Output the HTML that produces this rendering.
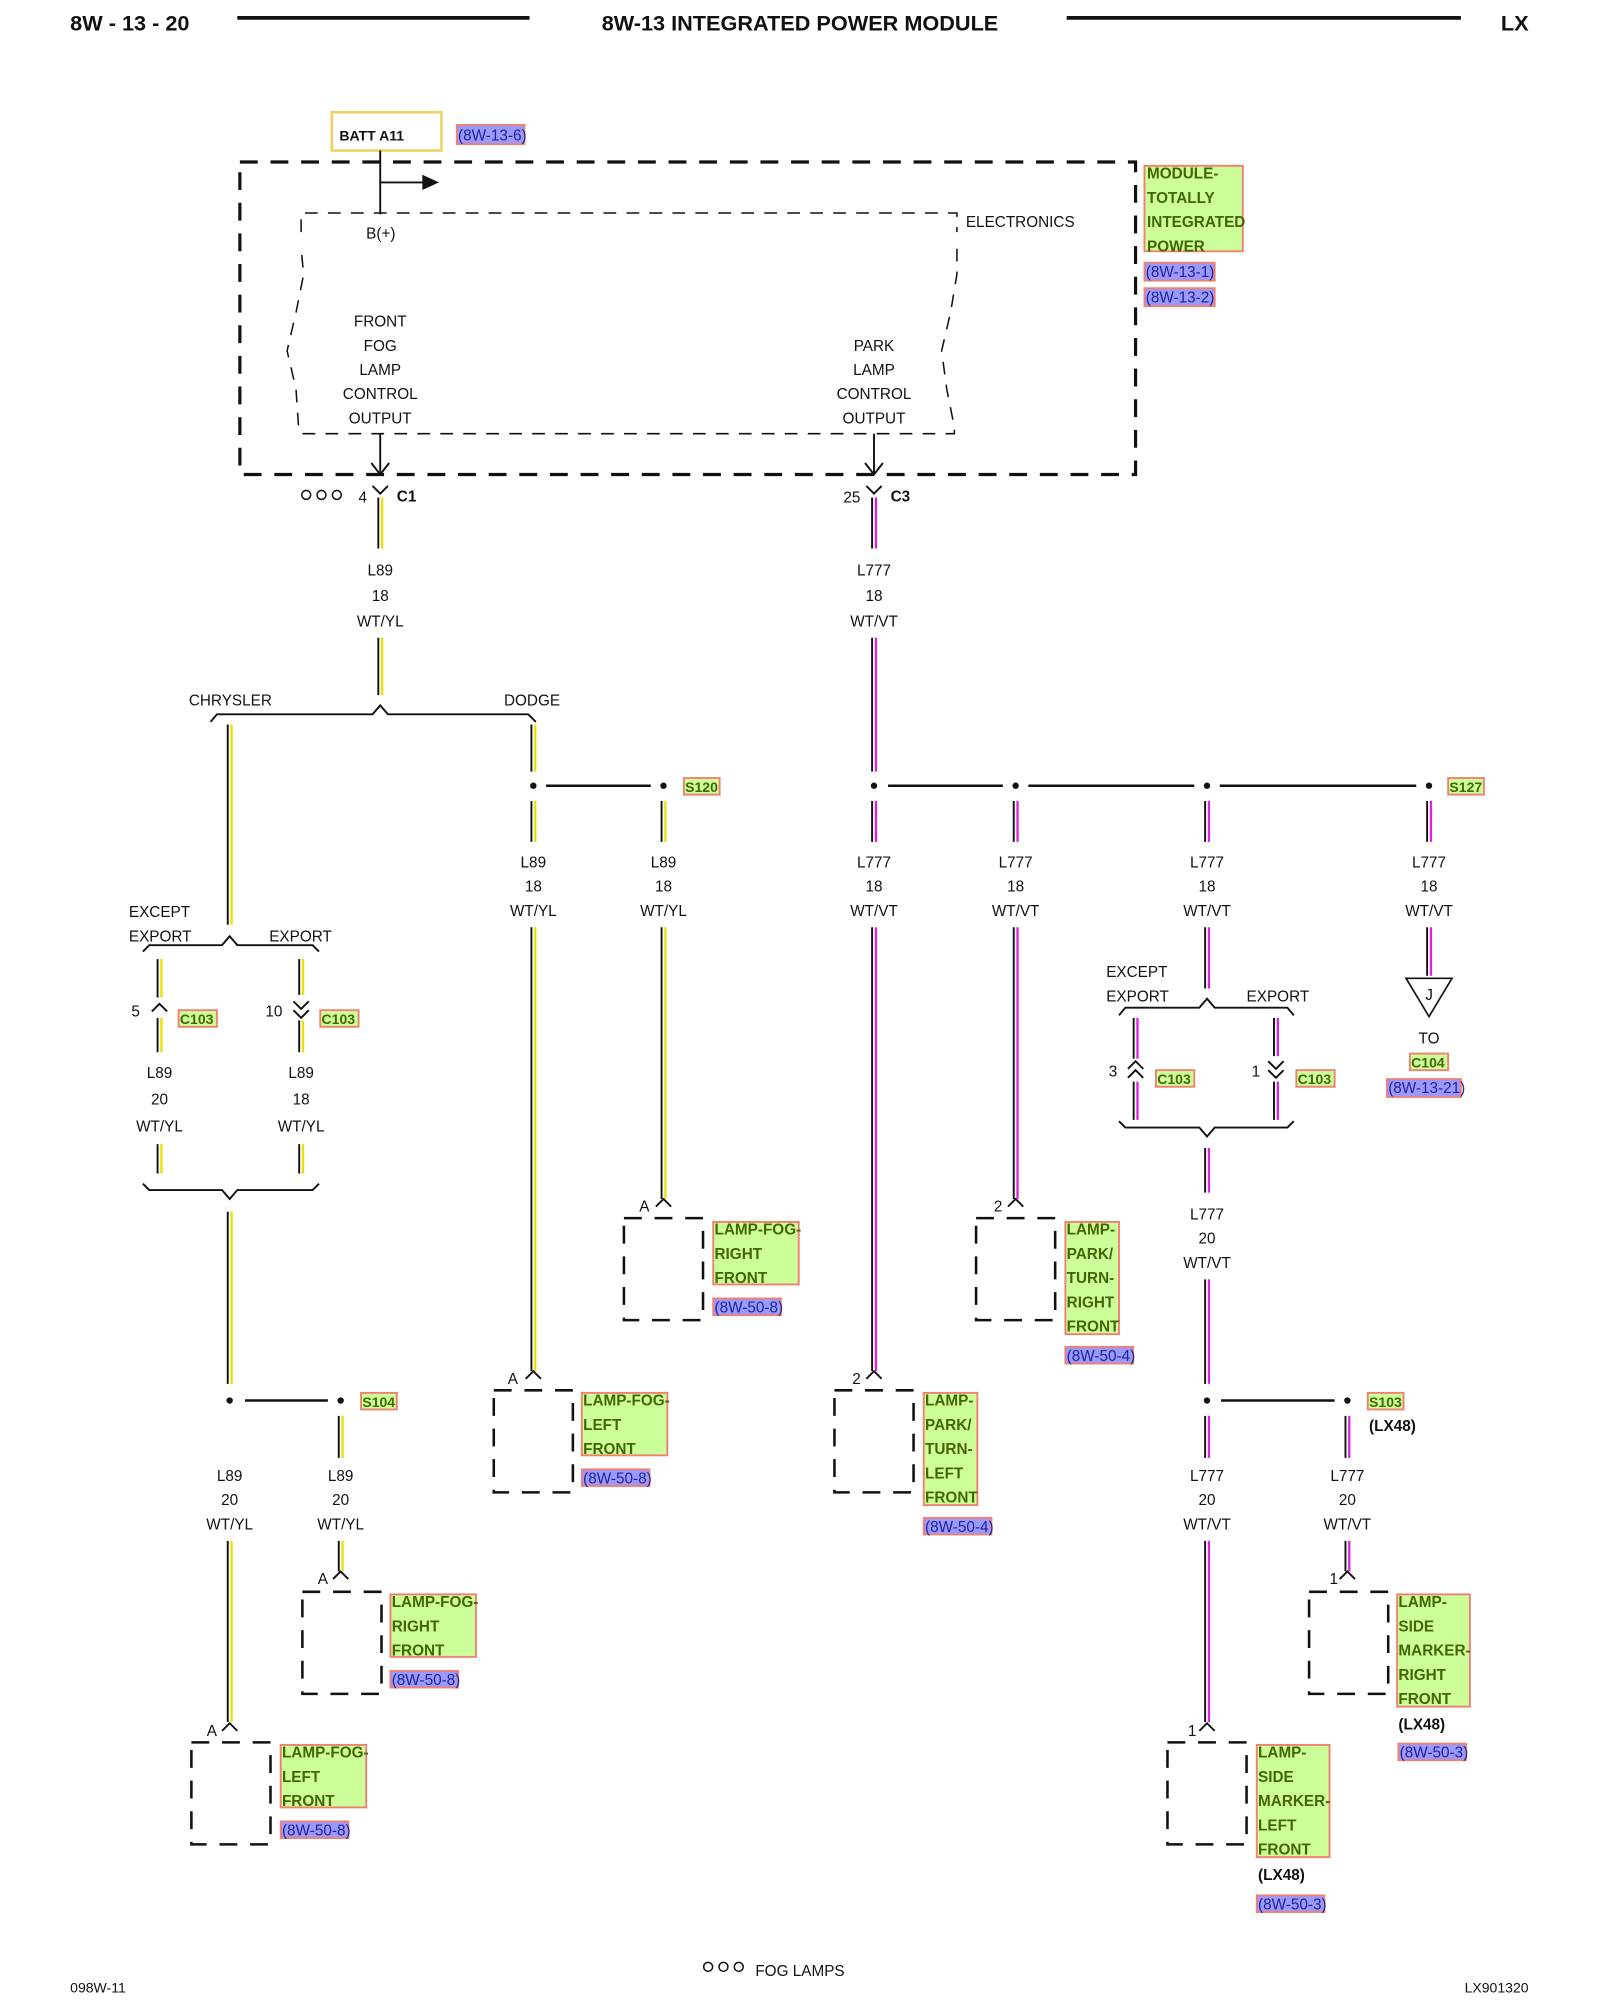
<!DOCTYPE html>
<html><head><meta charset="utf-8"><style>
html,body{margin:0;padding:0;background:#fff}
svg{display:block}
text{font-family:"Liberation Sans",sans-serif;font-size:12px;fill:#111}
.b{font-weight:bold}
.g{fill:#ccff99;stroke:#f08070;stroke-width:1.5}
.bl{fill:#9999ff;stroke:#f08070;stroke-width:1.5}
.gt{fill:#446600;font-weight:bold;font-size:12px}
.bt{fill:#22229a;font-size:12px}
.k{stroke:#111;stroke-width:1.5;fill:none}
.y{stroke:#e8e000;stroke-width:1.8;fill:none}
.m{stroke:#e020e0;stroke-width:1.8;fill:none}
.d{stroke:#111;stroke-width:2.5;fill:none;stroke-dasharray:14,10}
.d2{stroke:#111;stroke-width:1.2;fill:none;stroke-dasharray:10,8}
</style></head><body>
<svg width="1600" height="2000" viewBox="0 0 1254 1568" preserveAspectRatio="none" xmlns="http://www.w3.org/2000/svg">
<!-- header -->
<text x="55" y="24" class="b" style="font-size:17px">8W - 13 - 20</text>
<line x1="186" y1="14" x2="415" y2="14" stroke="#111" stroke-width="3"/>
<text x="627" y="24" class="b" text-anchor="middle" style="font-size:17px">8W-13 INTEGRATED POWER MODULE</text>
<line x1="836" y1="14" x2="1145" y2="14" stroke="#111" stroke-width="3"/>
<text x="1198" y="24" class="b" text-anchor="end" style="font-size:17px">LX</text>

<!-- BATT -->
<rect x="260" y="88" width="86" height="30" fill="none" stroke="#f0d060" stroke-width="2"/>
<text x="266" y="110" class="b" style="font-size:11px">BATT A11</text>
<rect x="358" y="98" width="53" height="15" class="bl"/><text x="359" y="110" class="bt">(8W-13-6)</text>

<!-- module -->
<rect x="188" y="127" width="702" height="245" class="d"/>
<line class="k" x1="298" y1="118" x2="298" y2="168"/>
<line class="k" x1="298" y1="340" x2="298" y2="372"/>
<line class="k" x1="298" y1="143" x2="332" y2="143"/><polygon points="344,143 331,137 331,149" fill="#111"/>
<text x="287" y="187">B(+)</text>
<path class="d2" d="M236,182 L236,167 L750,167 L750,182 M750,195 L750,215 L745,245 L738,275 L742,305 L748,335 L748,340 L236,340 L234,335 L232,305 L225,275 L232,245 L238,215 L236,195"/>
<text x="757" y="178">ELECTRONICS</text>
<g text-anchor="middle">
<text x="298" y="256">FRONT</text><text x="298" y="275">FOG</text><text x="298" y="294">LAMP</text><text x="298" y="313">CONTROL</text><text x="298" y="332">OUTPUT</text>
<text x="685" y="275">PARK</text><text x="685" y="294">LAMP</text><text x="685" y="313">CONTROL</text><text x="685" y="332">OUTPUT</text>
</g>
<line class="k" x1="685" y1="340" x2="685" y2="372"/>
<polyline class="k" points="291,363 298,372 305,363"/>
<polyline class="k" points="678,363 685,372 692,363"/>
<rect x="897" y="130" width="77" height="67" class="g"/>
<text x="899" y="140" class="gt">MODULE-</text><text x="899" y="159" class="gt">TOTALLY</text><text x="899" y="178" class="gt">INTEGRATED</text><text x="899" y="197" class="gt">POWER</text>
<rect x="897" y="206" width="55" height="14" class="bl"/><text x="898" y="217" class="bt">(8W-13-1)</text>
<rect x="897" y="226" width="55" height="14" class="bl"/><text x="898" y="237" class="bt">(8W-13-2)</text>

<!-- C1 / C3 -->
<g fill="none" stroke="#111" stroke-width="1.2"><circle cx="240" cy="388" r="3.5"/><circle cx="252" cy="388" r="3.5"/><circle cx="264" cy="388" r="3.5"/></g>
<text x="281" y="394">4</text><polyline class="k" points="292,381 298,387 304,381"/><text x="311" y="393" class="b">C1</text>
<text x="661" y="394">25</text><polyline class="k" points="679,381 685,387 691,381"/><text x="698" y="393" class="b">C3</text>

<!-- wires -->
<path class="k" d="M296.5,390V430M296.5,500V545 M178.5,568V725 M416.5,568V605 M416.5,628V660 M416.5,727V1075 M518.5,628V660 M518.5,727V940 M123.5,752V782 M123.5,798V825 M123.5,897V920 M234.5,752V780 M234.5,800V825 M234.5,897V920 M178.5,950V1085 M178.5,1208V1350 M265.5,1110V1143 M265.5,1208V1232"/>
<path class="y" d="M299.5,390V430M299.5,500V545 M181.5,568V725 M419.5,568V605 M419.5,628V660 M419.5,727V1075 M521.5,628V660 M521.5,727V940 M126.5,752V782 M126.5,798V825 M126.5,897V920 M237.5,752V780 M237.5,800V825 M237.5,897V920 M181.5,950V1085 M181.5,1208V1350 M268.5,1110V1143 M268.5,1208V1232"/>
<path class="k" d="M683.5,390V430M683.5,500V605 M683.5,628V660 M683.5,727V1075 M794.5,628V660 M794.5,727V940 M944.5,628V660 M944.5,727V775 M888.5,798V830 M888.5,848V878 M998.5,798V828 M998.5,848V878 M944.5,900V935 M944.5,1003V1085 M944.5,1110V1143 M944.5,1208V1350 M1054.5,1110V1143 M1054.5,1208V1232 M1118.5,628V660 M1118.5,727V765"/>
<path class="m" d="M686.5,390V430M686.5,500V605 M686.5,628V660 M686.5,727V1075 M797.5,628V660 M797.5,727V940 M947.5,628V660 M947.5,727V775 M891.5,798V830 M891.5,848V878 M1001.5,798V828 M1001.5,848V878 M947.5,900V935 M947.5,1003V1085 M947.5,1110V1143 M947.5,1208V1350 M1057.5,1110V1143 M1057.5,1208V1232 M1121.5,628V660 M1121.5,727V765"/>

<!-- wire labels -->
<g text-anchor="middle">
<text x="298" y="451">L89</text><text x="298" y="471">18</text><text x="298" y="491">WT/YL</text>
<text x="685" y="451">L777</text><text x="685" y="471">18</text><text x="685" y="491">WT/VT</text>
<text x="418" y="680">L89</text><text x="418" y="699">18</text><text x="418" y="718">WT/YL</text>
<text x="520" y="680">L89</text><text x="520" y="699">18</text><text x="520" y="718">WT/YL</text>
<text x="685" y="680">L777</text><text x="685" y="699">18</text><text x="685" y="718">WT/VT</text>
<text x="796" y="680">L777</text><text x="796" y="699">18</text><text x="796" y="718">WT/VT</text>
<text x="946" y="680">L777</text><text x="946" y="699">18</text><text x="946" y="718">WT/VT</text>
<text x="1120" y="680">L777</text><text x="1120" y="699">18</text><text x="1120" y="718">WT/VT</text>
<text x="125" y="845">L89</text><text x="125" y="866">20</text><text x="125" y="887">WT/YL</text>
<text x="236" y="845">L89</text><text x="236" y="866">18</text><text x="236" y="887">WT/YL</text>
<text x="946" y="956">L777</text><text x="946" y="975">20</text><text x="946" y="994">WT/VT</text>
<text x="180" y="1161">L89</text><text x="180" y="1180">20</text><text x="180" y="1199">WT/YL</text>
<text x="267" y="1161">L89</text><text x="267" y="1180">20</text><text x="267" y="1199">WT/YL</text>
<text x="946" y="1161">L777</text><text x="946" y="1180">20</text><text x="946" y="1199">WT/VT</text>
<text x="1056" y="1161">L777</text><text x="1056" y="1180">20</text><text x="1056" y="1199">WT/VT</text>
</g>

<text x="148" y="553">CHRYSLER</text><text x="395" y="553">DODGE</text>
<polyline class="k" points="165,566 170,560 292,560 298,553 304,560 414,560 420,566"/>

<g fill="#111">
<circle cx="418" cy="616" r="2.5"/><circle cx="520" cy="616" r="2.5"/>
<circle cx="685" cy="616" r="2.5"/><circle cx="796" cy="616" r="2.5"/><circle cx="946" cy="616" r="2.5"/><circle cx="1120" cy="616" r="2.5"/>
<circle cx="180" cy="1098" r="2.5"/><circle cx="267" cy="1098" r="2.5"/>
<circle cx="946" cy="1098" r="2.5"/><circle cx="1056" cy="1098" r="2.5"/>
</g>
<path stroke="#111" stroke-width="2" d="M428,616H510 M696,616H786 M806,616H936 M956,616H1110 M192,1098H257 M957,1098H1046"/>
<rect x="536" y="610" width="28" height="13" class="g"/><text x="537" y="621" class="gt" style="font-size:11px">S120</text>
<rect x="1135" y="610" width="28" height="13" class="g"/><text x="1136" y="621" class="gt" style="font-size:11px">S127</text>
<rect x="283" y="1092" width="28" height="13" class="g"/><text x="284" y="1103" class="gt" style="font-size:11px">S104</text>
<rect x="1072" y="1092" width="28" height="13" class="g"/><text x="1073" y="1103" class="gt" style="font-size:11px">S103</text>
<text x="1073" y="1122" class="b">(LX48)</text>

<text x="101" y="719">EXCEPT</text><text x="101" y="738">EXPORT</text><text x="211" y="738">EXPORT</text>
<polyline class="k" points="112,746 117,741 174,741 180,734 186,741 245,741 250,746"/>
<text x="103" y="797">5</text><polyline class="k" points="119,793 125,787 131,793"/>
<rect x="140" y="792" width="30" height="13" class="g"/><text x="141" y="803" class="gt" style="font-size:11px">C103</text>
<text x="208" y="797">10</text><polyline class="k" points="230,785 236,791 242,785"/><polyline class="k" points="230,792 236,798 242,792"/>
<rect x="251" y="792" width="30" height="13" class="g"/><text x="252" y="803" class="gt" style="font-size:11px">C103</text>
<polyline class="k" points="112,928 117,933 174,933 180,940 186,933 245,933 250,928"/>

<text x="867" y="766">EXCEPT</text><text x="867" y="785">EXPORT</text><text x="977" y="785">EXPORT</text>
<polyline class="k" points="877,796 882,790 940,790 946,783 952,790 1009,790 1014,796"/>
<text x="869" y="844">3</text><polyline class="k" points="884,838 890,832 896,838"/><polyline class="k" points="884,845 890,839 896,845"/>
<rect x="906" y="839" width="30" height="13" class="g"/><text x="907" y="850" class="gt" style="font-size:11px">C103</text>
<text x="981" y="844">1</text><polyline class="k" points="994,832 1000,838 1006,832"/><polyline class="k" points="994,839 1000,845 1006,839"/>
<rect x="1016" y="839" width="30" height="13" class="g"/><text x="1017" y="850" class="gt" style="font-size:11px">C103</text>
<polyline class="k" points="877,879 882,884 940,884 946,891 952,884 1009,884 1014,879"/>

<polygon points="1102,767 1138,767 1120,797" fill="#fff" stroke="#111" stroke-width="1.3"/>
<text x="1120" y="784" text-anchor="middle">J</text>
<text x="1120" y="818" text-anchor="middle">TO</text>
<rect x="1105" y="826" width="30" height="13" class="g"/><text x="1106" y="837" class="gt" style="font-size:11px">C104</text>
<rect x="1087" y="846" width="58" height="14" class="bl"/><text x="1088" y="857" class="bt">(8W-13-21)</text>

<text x="501" y="950">A</text><polyline class="k" points="514,946 520,940 526,946"/>
<rect x="489" y="955" width="62" height="80" class="d" style="stroke-width:2"/>
<rect x="559" y="958" width="67" height="49" class="g"/><text x="560" y="968" class="gt">LAMP-FOG-</text><text x="560" y="987" class="gt">RIGHT</text><text x="560" y="1006" class="gt">FRONT</text>
<rect x="559" y="1018" width="53" height="13" class="bl"/><text x="560" y="1029" class="bt">(8W-50-8)</text>

<text x="398" y="1085">A</text><polyline class="k" points="412,1081 418,1075 424,1081"/>
<rect x="387" y="1090" width="62" height="80" class="d" style="stroke-width:2"/>
<rect x="456" y="1092" width="67" height="49" class="g"/><text x="457" y="1102" class="gt">LAMP-FOG-</text><text x="457" y="1121" class="gt">LEFT</text><text x="457" y="1140" class="gt">FRONT</text>
<rect x="456" y="1152" width="53" height="13" class="bl"/><text x="457" y="1163" class="bt">(8W-50-8)</text>

<text x="668" y="1085">2</text><polyline class="k" points="679,1081 685,1075 691,1081"/>
<rect x="654" y="1090" width="62" height="80" class="d" style="stroke-width:2"/>
<rect x="724" y="1092" width="42" height="88" class="g"/><text x="725" y="1102" class="gt">LAMP-</text><text x="725" y="1121" class="gt">PARK/</text><text x="725" y="1140" class="gt">TURN-</text><text x="725" y="1159" class="gt">LEFT</text><text x="725" y="1178" class="gt">FRONT</text>
<rect x="724" y="1190" width="53" height="13" class="bl"/><text x="725" y="1201" class="bt">(8W-50-4)</text>

<text x="779" y="950">2</text><polyline class="k" points="790,946 796,940 802,946"/>
<rect x="765" y="955" width="62" height="80" class="d" style="stroke-width:2"/>
<rect x="835" y="958" width="42" height="88" class="g"/><text x="836" y="968" class="gt">LAMP-</text><text x="836" y="987" class="gt">PARK/</text><text x="836" y="1006" class="gt">TURN-</text><text x="836" y="1025" class="gt">RIGHT</text><text x="836" y="1044" class="gt">FRONT</text>
<rect x="835" y="1056" width="53" height="13" class="bl"/><text x="836" y="1067" class="bt">(8W-50-4)</text>

<text x="249" y="1242">A</text><polyline class="k" points="261,1238 267,1232 273,1238"/>
<rect x="237" y="1248" width="62" height="80" class="d" style="stroke-width:2"/>
<rect x="306" y="1250" width="67" height="49" class="g"/><text x="307" y="1260" class="gt">LAMP-FOG-</text><text x="307" y="1279" class="gt">RIGHT</text><text x="307" y="1298" class="gt">FRONT</text>
<rect x="306" y="1310" width="53" height="13" class="bl"/><text x="307" y="1321" class="bt">(8W-50-8)</text>

<text x="162" y="1361">A</text><polyline class="k" points="174,1357 180,1351 186,1357"/>
<rect x="150" y="1366" width="62" height="80" class="d" style="stroke-width:2"/>
<rect x="220" y="1368" width="67" height="49" class="g"/><text x="221" y="1378" class="gt">LAMP-FOG-</text><text x="221" y="1397" class="gt">LEFT</text><text x="221" y="1416" class="gt">FRONT</text>
<rect x="220" y="1428" width="53" height="13" class="bl"/><text x="221" y="1439" class="bt">(8W-50-8)</text>

<text x="1042" y="1242">1</text><polyline class="k" points="1050,1238 1056,1232 1062,1238"/>
<rect x="1026" y="1248" width="62" height="80" class="d" style="stroke-width:2"/>
<rect x="1095" y="1250" width="57" height="88" class="g"/><text x="1096" y="1260" class="gt">LAMP-</text><text x="1096" y="1279" class="gt">SIDE</text><text x="1096" y="1298" class="gt">MARKER-</text><text x="1096" y="1317" class="gt">RIGHT</text><text x="1096" y="1336" class="gt">FRONT</text>
<text x="1096" y="1356" class="b">(LX48)</text>
<rect x="1096" y="1367" width="53" height="13" class="bl"/><text x="1097" y="1378" class="bt">(8W-50-3)</text>

<text x="931" y="1361">1</text><polyline class="k" points="940,1357 946,1351 952,1357"/>
<rect x="915" y="1366" width="62" height="80" class="d" style="stroke-width:2"/>
<rect x="985" y="1368" width="57" height="88" class="g"/><text x="986" y="1378" class="gt">LAMP-</text><text x="986" y="1397" class="gt">SIDE</text><text x="986" y="1416" class="gt">MARKER-</text><text x="986" y="1435" class="gt">LEFT</text><text x="986" y="1454" class="gt">FRONT</text>
<text x="986" y="1474" class="b">(LX48)</text>
<rect x="985" y="1486" width="53" height="13" class="bl"/><text x="986" y="1497" class="bt">(8W-50-3)</text>

<g fill="none" stroke="#111" stroke-width="1.2"><circle cx="555" cy="1542" r="3.5"/><circle cx="567" cy="1542" r="3.5"/><circle cx="579" cy="1542" r="3.5"/></g>
<text x="592" y="1549">FOG LAMPS</text>
<text x="55" y="1562" style="font-size:11px">098W-11</text>
<text x="1198" y="1562" text-anchor="end" style="font-size:11px">LX901320</text>
</svg>
</body></html>
